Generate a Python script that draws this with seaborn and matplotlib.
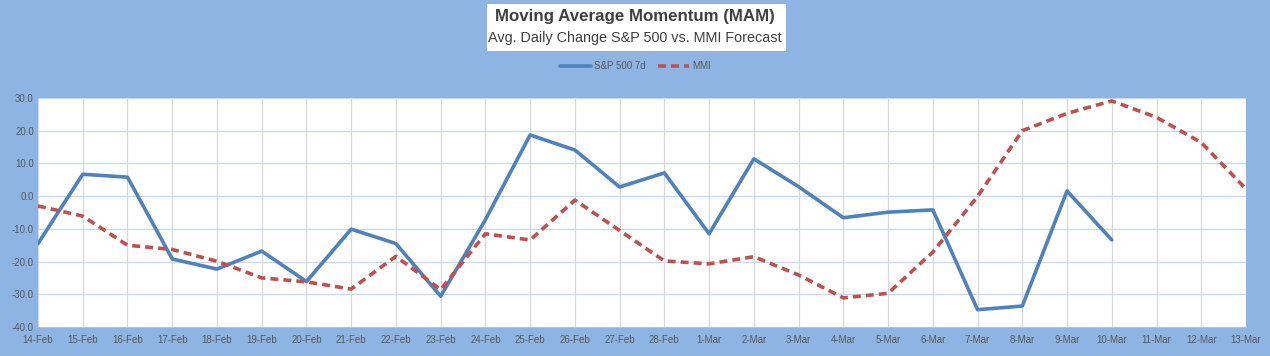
import pandas as pd
import numpy as np
import seaborn as sns
import matplotlib.pyplot as plt
from matplotlib.patches import Rectangle

dates = ['14-Feb', '15-Feb', '16-Feb', '17-Feb', '18-Feb', '19-Feb', '20-Feb', '21-Feb',
         '22-Feb', '23-Feb', '24-Feb', '25-Feb', '26-Feb', '27-Feb', '28-Feb', '1-Mar',
         '2-Mar', '3-Mar', '4-Mar', '5-Mar', '6-Mar', '7-Mar', '8-Mar', '9-Mar',
         '10-Mar', '11-Mar', '12-Mar', '13-Mar']
sp500_7d = [-14.5, 6.7, 5.8, -19.2, -22.3, -16.8, -26.1, -10.1,
            -14.5, -30.6, -7.2, 18.7, 14.1, 2.8, 7.1, -11.5,
            11.4, 2.9, -6.6, -4.9, -4.2, -34.7, -33.6, 1.6,
            -13.4, np.nan, np.nan, np.nan]
mmi = [-3.0, -6.1, -15.0, -16.3, -19.9, -25.0, -26.2, -28.4,
       -18.4, -28.6, -11.5, -13.4, -1.2, -10.5, -19.8, -20.7,
       -18.5, -24.1, -31.1, -29.7, -17.1, -0.1, 20.0, 25.3,
       29.1, 24.1, 16.4, 2.2]

df = pd.DataFrame({'pos': range(len(dates)), 'S&P 500 7d': sp500_7d, 'MMI': mmi})

sns.set_style('white')
plt.rcParams['font.family'] = ['Liberation Sans', 'DejaVu Sans']

bg = '#8DB4E2'
fig = plt.figure(figsize=(12.7, 3.56), dpi=100, facecolor=bg)
ax = fig.add_axes([38 / 1270, 1 - 327 / 356, 1208 / 1270, 229 / 356])
ax.set_facecolor('white')

sns.lineplot(data=df, x='pos', y='S&P 500 7d', ax=ax, color='#4F81BD', linewidth=2.6,
             label='S&P 500 7d')
sns.lineplot(data=df, x='pos', y='MMI', ax=ax, color='#C0504D', linewidth=2.6,
             linestyle=(0, (2.2, 1.4)), label='MMI')

ax.set_xlim(0, len(dates) - 1)
ax.set_ylim(-40, 30)
ax.set_xticks(range(len(dates)))
ax.set_xticklabels(dates)
ax.set_yticks(range(-40, 31, 10))
ax.set_yticklabels([f'{v:.1f}' for v in range(-40, 31, 10)])
ax.tick_params(axis='both', labelsize=7, colors='#595959', length=0, pad=3)
ax.tick_params(axis='x', length=3, color='#BFBFBF')
ax.set_xlabel('')
ax.set_ylabel('')

for x in range(len(dates)):
    ax.axvline(x, color='#D9D9D9', linewidth=0.9, zorder=0)
for y in range(-30, 31, 10):
    ax.axhline(y, color='#C5D9F1', linewidth=0.9, zorder=0)

for s in ax.spines.values():
    s.set_visible(False)
ax.spines['bottom'].set_visible(True)
ax.spines['bottom'].set_color('#BFBFBF')

handles, labels = ax.get_legend_handles_labels()
ax.get_legend().remove()
fig.legend(handles, labels, loc='center', bbox_to_anchor=(0.5, 1 - 66 / 356), ncol=2,
           frameon=False, fontsize=7, handlelength=3.2, handletextpad=0.3,
           columnspacing=1.3, labelcolor='#595959')

fig.patches.append(Rectangle((487 / 1270, 1 - 51 / 356), 299 / 1270, 47 / 356,
                             transform=fig.transFigure, facecolor='white',
                             edgecolor='none', zorder=0))
fig.text(0.5, 1 - 17 / 356, 'Moving Average Momentum (MAM)', ha='center', va='center',
         fontsize=12.2, fontweight='bold', color='#404040')
fig.text(0.5, 1 - 38 / 356, 'Avg. Daily Change S&P 500 vs. MMI Forecast', ha='center',
         va='center', fontsize=10.4, color='#404040')

fig.savefig('out.png', dpi=100, facecolor=bg)
